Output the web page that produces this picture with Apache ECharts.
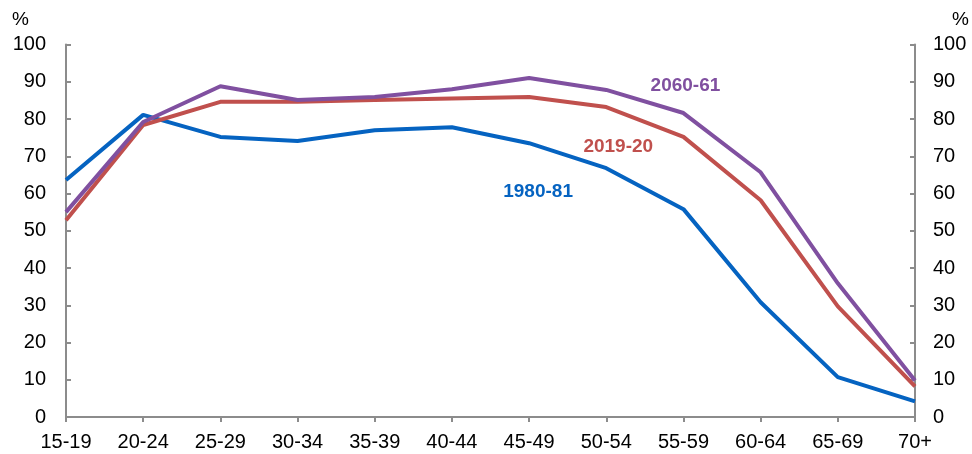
<!DOCTYPE html>
<html>
<head>
<meta charset="utf-8">
<script src="https://cdn.jsdelivr.net/npm/echarts@6/dist/echarts.min.js"></script>
<style>
  html, body { margin: 0; padding: 0; background: #fff; }
  #chart { width: 972px; height: 454px; }
</style>
</head>
<body>
<div id="chart"></div>
<script>
const ageGroups = ['15-19', '20-24', '25-29', '30-34', '35-39', '40-44', '45-49', '50-54', '55-59', '60-64', '65-69', '70+']
const rate1980 = [63.6, 81.1, 75.2, 74.1, 77.0, 77.8, 73.5, 66.8, 55.8, 30.8, 10.7, 4.2]
const rate2019 = [52.8, 78.4, 84.6, 84.6, 85.1, 85.5, 85.9, 83.2, 75.2, 58.2, 29.7, 8.2]
const rate2060 = [55.0, 79.2, 88.8, 85.1, 85.9, 88.0, 91.0, 87.8, 81.6, 65.7, 35.9, 9.8]

const font = 'Liberation Sans, Arial, sans-serif'
const axisGrey = '#8c8c8c'

// value axis, used on both sides
const valueAxis = (pos) => ({
  type: 'value',
  position: pos,
  min: 0,
  max: 100,
  interval: 10,
  axisLine: { show: true, lineStyle: { color: axisGrey, width: 2 } },
  axisTick: { show: true, inside: true, length: 5, lineStyle: { color: axisGrey, width: 2 } },
  axisLabel: { color: '#000', fontSize: 20, fontFamily: font, margin: pos === 'left' ? 20 : 18 },
  splitLine: { show: false }
})

const lineSeries = (name, data, color, labelCoord, offset) => ({
  name: name,
  type: 'line',
  data: data,
  symbol: 'none',
  lineStyle: { color: color, width: 4 },
  itemStyle: { color: color },
  z: 3,
  markPoint: {
    symbol: 'circle',
    symbolSize: 0,
    silent: true,
    data: [{ coord: labelCoord }],
    label: {
      show: true,
      position: 'inside',
      offset: offset,
      formatter: name,
      color: color,
      fontSize: 19,
      fontWeight: 'bold',
      fontFamily: font
    }
  }
})

const chart = echarts.init(document.getElementById('chart'))
chart.setOption({
  animation: false,
  grid: { left: 66, right: 57, top: 44.5, bottom: 37, containLabel: false },
  xAxis: {
    type: 'category',
    data: ageGroups,
    boundaryGap: false,
    axisLine: { lineStyle: { color: axisGrey, width: 2 } },
    axisTick: { show: true, alignWithLabel: true, length: 5, lineStyle: { color: axisGrey, width: 2 } },
    axisLabel: { color: '#000', fontSize: 20, fontFamily: font, margin: 15, interval: 0 }
  },
  yAxis: [valueAxis('left'), valueAxis('right')],
  graphic: [
    { type: 'text', left: 12, top: 10, style: { text: '%', fontSize: 19, fontFamily: font, fill: '#000' } },
    { type: 'text', left: 952, top: 10, style: { text: '%', fontSize: 19, fontFamily: font, fill: '#000' } }
  ],
  series: [
    lineSeries('1980-81', rate1980, '#0563C1', ['45-49', 60.4], [9, 0]),
    lineSeries('2019-20', rate2019, '#C0504D', ['50-54', 72.5], [12, 0]),
    lineSeries('2060-61', rate2060, '#8050A0', ['55-59', 88.8], [2, 0])
  ]
})
</script>
</body>
</html>
